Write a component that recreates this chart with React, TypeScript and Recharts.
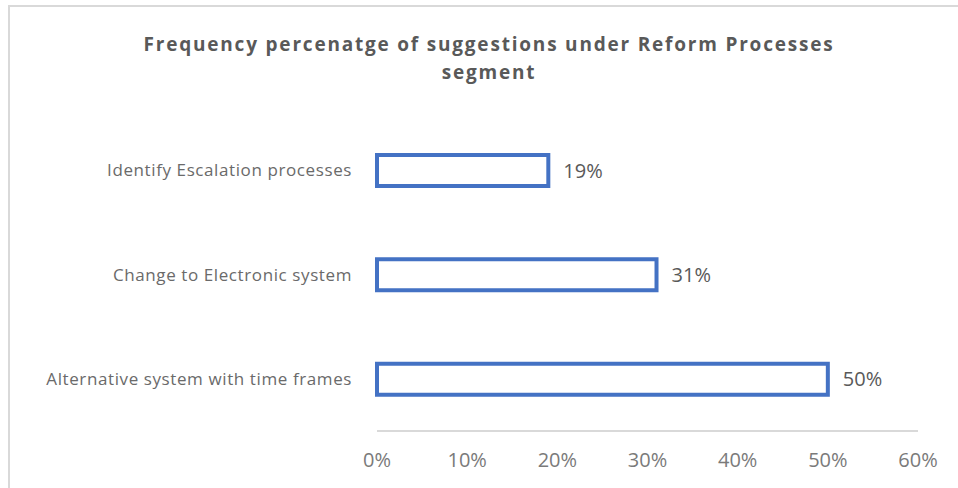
import React from "react";
import { BarChart, Bar, XAxis, YAxis, LabelList } from "recharts";

const categories = [
  "Identify Escalation processes",
  "Change to Electronic system",
  "Alternative system with time frames",
];
const values = [19, 31, 50];
const xTicks = [0, 10, 20, 30, 40, 50, 60];

const data = categories.map((name, i) => ({ name, value: values[i] }));

const TEXT = "#595959";
const LIGHT = "#7a7a7a";
const BLUE = "#4472C4";
const FONT = "'Open Sans', sans-serif";

export default function App() {
  return (
    <div style={{ position: "absolute", left: 0, top: 0, width: 958, height: 488, overflow: "hidden", background: "#fff", fontFamily: FONT }}>
      {/* chart frame, cropped on right and bottom */}
      <div style={{ position: "absolute", left: 8, top: 5, width: 1200, height: 800, border: "2px solid #d9d9d9" }} />
      <div
        style={{
          position: "absolute",
          left: 0,
          top: 30,
          width: 978,
          textAlign: "center",
          color: TEXT,
          fontWeight: 700,
          fontSize: 19,
          lineHeight: "28px",
          letterSpacing: 1.8,
        }}
      >
        Frequency percenatge of suggestions under Reform Processes
        <br />
        segment
      </div>
      <div style={{ position: "absolute", left: 0, top: 0 }}>
        <BarChart
          width={958}
          height={488}
          data={data}
          layout="vertical"
          margin={{ top: 118, right: 40, bottom: 17, left: 0 }}
        >
          <XAxis
            type="number"
            domain={[0, 60]}
            ticks={xTicks}
            tickFormatter={(v) => `${v}%`}
            axisLine={{ stroke: "#d9d9d9", strokeWidth: 2 }}
            tickLine={false}
            tickSize={0}
            tickMargin={22}
            height={40}
            tick={{ fill: LIGHT, fontSize: 20, fontFamily: FONT }}
          />
          <YAxis
            type="category"
            dataKey="name"
            width={377}
            axisLine={false}
            tickLine={false}
            tickSize={0}
            tickMargin={25}
            tick={{ fill: "#6a6a6a", fontSize: 17, fontFamily: FONT, letterSpacing: 0.6 }}
          />
          <Bar dataKey="value" fill="#ffffff" stroke={BLUE} strokeWidth={4} barSize={31} isAnimationActive={false}>
            <LabelList
              dataKey="value"
              position="right"
              offset={15}
              formatter={(v: number) => `${v}%`}
              style={{ fill: TEXT, fontSize: 20, fontFamily: FONT }}
            />
          </Bar>
        </BarChart>
      </div>
    </div>
  );
}
